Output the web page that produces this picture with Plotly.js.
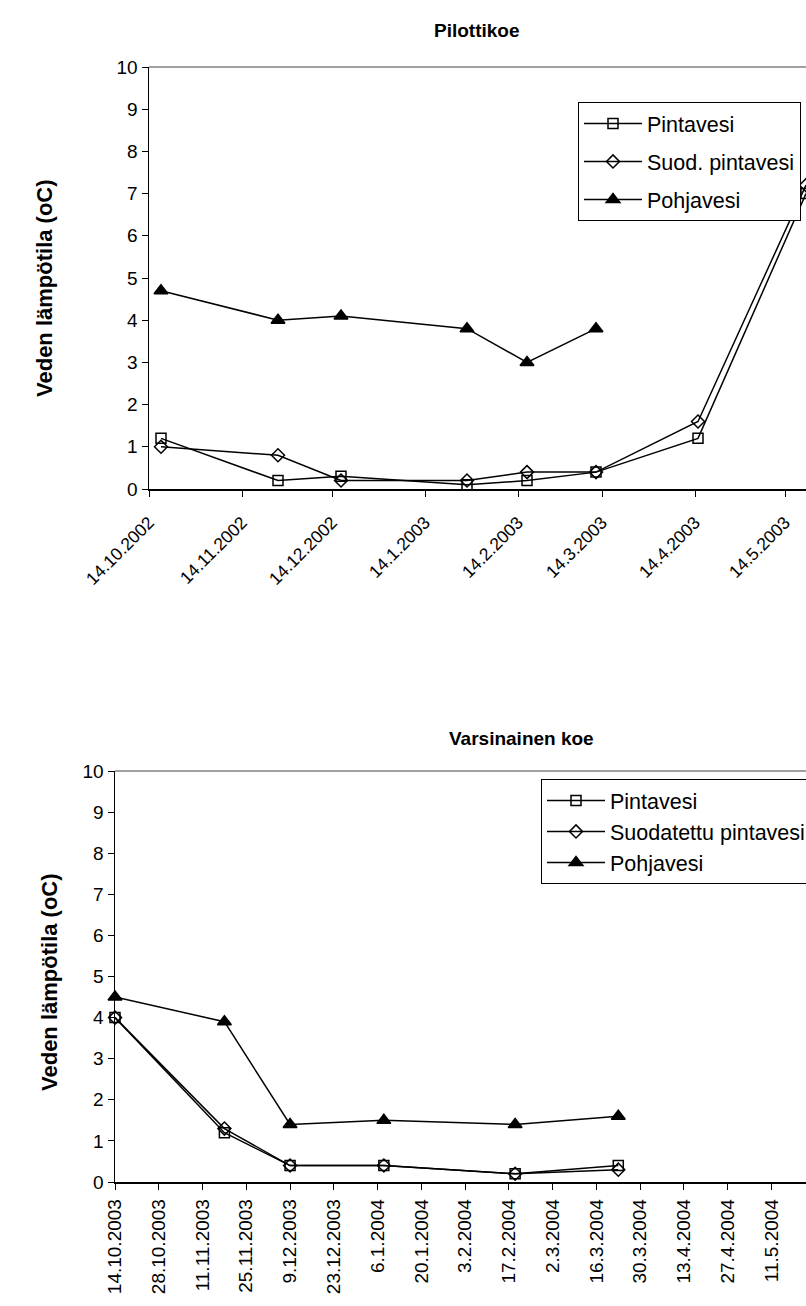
<!DOCTYPE html>
<html>
<head>
<meta charset="utf-8">
<script src="https://cdn.plot.ly/plotly-3.0.1.min.js"></script>
<style>
  html, body { margin: 0; padding: 0; overflow: hidden; background: #fff; }
  #chart { width: 900px; height: 1306px; }
</style>
</head>
<body>
<div id="chart"></div>
<script>
// --- Pilottikoe (2002-2003) ---
const pilotDates = ['2002-10-18', '2002-11-26', '2002-12-17', '2003-01-28', '2003-02-17', '2003-03-12', '2003-04-15', '2003-05-21'];
const pilotPintavesi = [1.2, 0.2, 0.3, 0.1, 0.2, 0.4, 1.2, 7.0];
const pilotSuodPintavesi = [1.0, 0.8, 0.2, 0.2, 0.4, 0.4, 1.6, 7.2];
const pilotPohjavesi = [4.7, 4.0, 4.1, 3.8, 3.0, 3.8, null, null];
const pilotTickVals = ['2002-10-14', '2002-11-14', '2002-12-14', '2003-01-14', '2003-02-14', '2003-03-14', '2003-04-14', '2003-05-14'];
const pilotTickText = ['14.10.2002', '14.11.2002', '14.12.2002', '14.1.2003', '14.2.2003', '14.3.2003', '14.4.2003', '14.5.2003'];
const pilotRange = ['2002-10-14', '2003-06-14'];

// --- Varsinainen koe (2003-2004) ---
const mainDates = ['2003-10-14', '2003-11-18', '2003-12-09', '2004-01-08', '2004-02-19', '2004-03-23'];
const mainPintavesi = [4.0, 1.2, 0.4, 0.4, 0.2, 0.4];
const mainSuodPintavesi = [4.0, 1.3, 0.4, 0.4, 0.2, 0.3];
const mainPohjavesi = [4.5, 3.9, 1.4, 1.5, 1.4, 1.6];
const mainTickVals = ['2003-10-14', '2003-10-28', '2003-11-11', '2003-11-25', '2003-12-09', '2003-12-23', '2004-01-06', '2004-01-20', '2004-02-03', '2004-02-17', '2004-03-02', '2004-03-16', '2004-03-30', '2004-04-13', '2004-04-27', '2004-05-11'];
const mainTickText = ['14.10.2003', '28.10.2003', '11.11.2003', '25.11.2003', '9.12.2003', '23.12.2003', '6.1.2004', '20.1.2004', '3.2.2004', '17.2.2004', '2.3.2004', '16.3.2004', '30.3.2004', '13.4.2004', '27.4.2004', '11.5.2004'];
const mainRange = ['2003-10-14', '2004-06-08'];

const yTickVals = [0, 1, 2, 3, 4, 5, 6, 7, 8, 9, 10];
const yTitle = 'Veden lämpötila (oC)';

// page geometry in pixels
const W = 900, H = 1306;
const fx = p => p / W;
const fy = p => 1 - p / H;

const FONT = 'Liberation Sans, Arial, sans-serif';
const LINE = { color: '#000', width: 1.5 };

function series(x, y, name, symbol, size, axes, legend, group) {
  return {
    type: 'scatter', mode: 'lines+markers', x: x, y: y, name: name,
    xaxis: axes[0], yaxis: axes[1], legend: legend, legendgroup: group,
    connectgaps: false, cliponaxis: false,
    line: LINE,
    marker: { symbol: symbol, size: size, color: '#000', line: { color: '#000', width: 1.5 } }
  };
}

const data = [
  series(pilotDates, pilotPintavesi, 'Pintavesi', 'square-open', 10, ['x', 'y'], 'legend', 'a1'),
  series(pilotDates, pilotSuodPintavesi, 'Suod. pintavesi', 'diamond-open', 10, ['x', 'y'], 'legend', 'a2'),
  series(pilotDates, pilotPohjavesi, 'Pohjavesi', 'triangle-up', 12, ['x', 'y'], 'legend', 'a3'),
  series(mainDates, mainPintavesi, 'Pintavesi', 'square-open', 10, ['x2', 'y2'], 'legend2', 'b1'),
  series(mainDates, mainSuodPintavesi, 'Suodatettu pintavesi', 'diamond-open', 10, ['x2', 'y2'], 'legend2', 'b2'),
  series(mainDates, mainPohjavesi, 'Pohjavesi', 'triangle-up', 12, ['x2', 'y2'], 'legend2', 'b3')
];

function xAxis(domain, range, vals, text, angle, anchor, standoff, size) {
  return {
    type: 'date', domain: domain, range: range, anchor: anchor,
    tickmode: 'array', tickvals: vals, ticktext: text, tickangle: angle,
    ticks: 'outside', ticklen: 6, tickwidth: 1, tickcolor: '#000',
    ticklabelstandoff: standoff,
    showline: true, linecolor: '#000', linewidth: 1.5,
    showgrid: false, zeroline: false,
    tickfont: { family: FONT, size: size, color: '#000' }
  };
}
function yAxis(domain, anchor) {
  return {
    domain: domain, range: [0, 10], anchor: anchor,
    tickmode: 'array', tickvals: yTickVals,
    ticks: 'outside', ticklen: 6, tickwidth: 1, tickcolor: '#000',
    showline: true, linecolor: '#000', linewidth: 1.5,
    showgrid: false, zeroline: false,
    tickfont: { family: FONT, size: 19, color: '#000' }
  };
}

function legendBox(x, y, gap) {
  return {
    x: x, y: y, xanchor: 'left', yanchor: 'top',
    bgcolor: '#fff', bordercolor: '#000', borderwidth: 1,
    font: { family: FONT, size: 21.5, color: '#000' },
    traceorder: 'grouped', tracegroupgap: gap, itemwidth: 58
  };
}

function label(text, px, py, size, angle) {
  return {
    text: text, xref: 'paper', yref: 'paper', x: fx(px), y: fy(py),
    xanchor: 'center', yanchor: 'middle', textangle: angle || 0, showarrow: false,
    font: { family: FONT, size: size, color: '#000' }
  };
}

const layout = {
  width: W, height: H,
  margin: { l: 0, r: 0, t: 0, b: 0 },
  paper_bgcolor: '#fff', plot_bgcolor: '#fff',
  showlegend: true,
  xaxis: xAxis([fx(149), fx(878)], pilotRange, pilotTickVals, pilotTickText, -45, 'y', 9, 17.5),
  yaxis: yAxis([fy(489), fy(67)], 'x'),
  xaxis2: xAxis([fx(115), fx(859)], mainRange, mainTickVals, mainTickText, -90, 'y2', 2, 19),
  yaxis2: yAxis([fy(1182), fy(771)], 'x2'),
  legend: legendBox(fx(578), fy(102), 7),
  legend2: legendBox(fx(541), fy(779), 0),
  shapes: [
    // grey plot-area border along the top of each chart
    { type: 'line', xref: 'x domain', yref: 'y domain', x0: 0, x1: 1, y0: 1, y1: 1, line: { color: '#808080', width: 1.5 } },
    { type: 'line', xref: 'x2 domain', yref: 'y2 domain', x0: 0, x1: 1, y0: 1, y1: 1, line: { color: '#808080', width: 1.5 } }
  ],
  annotations: [
    label('<b>Pilottikoe</b>', 477, 30, 19),
    label('<b>Varsinainen koe</b>', 521, 738, 19),
    label('<b>' + yTitle + '</b>', 44, 288, 22, -90),
    label('<b>' + yTitle + '</b>', 49, 982, 22, -90)
  ]
};

Plotly.newPlot('chart', data, layout, { displayModeBar: false, staticPlot: true });
</script>
</body>
</html>
